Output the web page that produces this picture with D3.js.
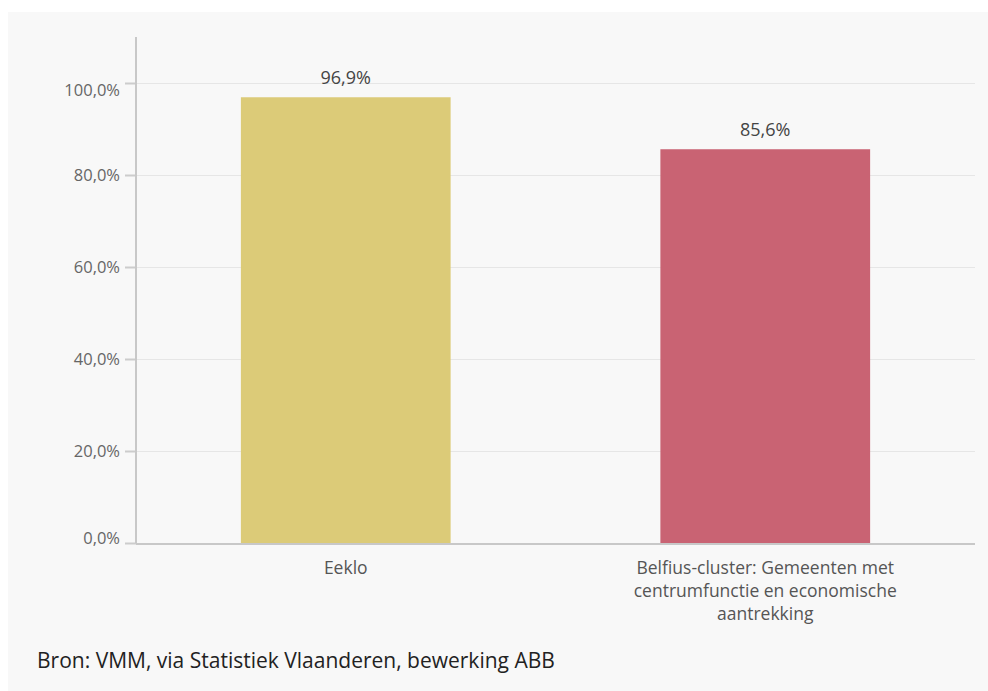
<!DOCTYPE html>
<html>
<head>
  <meta http-equiv="content-type" content="text/html; charset=utf-8">
  <title>Eeklo vs Belfius-cluster</title>
  <style>
    body { margin: 0; background: #fff; }
    svg { display: block; }
    .panel { fill: #f8f8f8; }
    .grid line { stroke: #e6e6e6; stroke-width: 1; }
    .tick text { font-family: "Open Sans", sans-serif; font-size: 16.5px; fill: #666; }
    .cat { font-family: "Open Sans", sans-serif; font-size: 17.5px; fill: #555; text-anchor: middle; }
    .val { font-family: "Open Sans", sans-serif; font-size: 18px; fill: #444; text-anchor: middle; }
    .source { font-family: "Open Sans", sans-serif; font-size: 21px; fill: #222; }
  </style>
</head>
<body>
  <svg id="canvas"></svg>
  <script src="https://d3js.org/d3.v7.min.js"></script>
  <script>
    const categories = ["Eeklo", "Belfius-cluster: Gemeenten met centrumfunctie en economische aantrekking"];
    const catLines = [["Eeklo"], ["Belfius-cluster: Gemeenten met", "centrumfunctie en economische", "aantrekking"]];
    const values = [96.9, 85.6];
    const colors = ["#dccb78", "#c96373"];
    const yTicks = [0, 20, 40, 60, 80, 100];
    const source = "Bron: VMM, via Statistiek Vlaanderen, bewerking ABB";

    const W = 988, H = 691;
    const m = { left: 136, right: 975, top: 37, bottom: 543 };
    const fmt = v => d3.format(".1f")(v).replace(".", ",") + "%";

    const svg = d3.select("#canvas").attr("width", W).attr("height", H);
    svg.append("rect").attr("class", "panel")
      .attr("x", 8).attr("y", 12).attr("width", W - 8).attr("height", H - 12);

    const x = d3.scaleBand().domain(categories).range([m.left, m.right]).paddingInner(0.5).paddingOuter(0.25);
    const y = d3.scaleLinear().domain([0, 110]).range([m.bottom, m.top]);

    // gridlines
    svg.append("g").attr("class", "grid")
      .selectAll("line").data(yTicks.filter(t => t > 0)).enter().append("line")
      .attr("x1", m.left).attr("x2", m.right)
      .attr("y1", t => y(t) + 0.5).attr("y2", t => y(t) + 0.5);

    // y axis
    const yAxis = svg.append("g")
      .attr("transform", "translate(" + m.left + ",0)")
      .call(d3.axisLeft(y).tickValues(yTicks).tickFormat(fmt).tickSize(11).tickPadding(5));
    yAxis.select(".domain").remove();
    yAxis.selectAll(".tick line").attr("stroke", "#ccc").attr("stroke-width", 2);
    // end labels are nudged inward, as in the original
    yAxis.selectAll(".tick text").attr("dy", t => t === 100 ? "0.75em" : t === 0 ? "0.05em" : "0.35em");
    svg.append("line").attr("x1", m.left).attr("x2", m.left)
      .attr("y1", m.top).attr("y2", m.bottom).attr("stroke", "#c8c8c8").attr("stroke-width", 2);

    // bars
    svg.selectAll(".bar").data(values).enter().append("rect")
      .attr("class", "bar")
      .attr("x", (d, i) => x(categories[i]))
      .attr("width", x.bandwidth())
      .attr("y", d => y(d))
      .attr("height", d => y(0) - y(d))
      .attr("fill", (d, i) => colors[i]);

    // x baseline
    svg.append("line").attr("x1", m.left).attr("x2", m.right)
      .attr("y1", m.bottom + 1).attr("y2", m.bottom + 1)
      .attr("stroke", "#c8c8c8").attr("stroke-width", 2);

    // value labels
    svg.selectAll(".val").data(values).enter().append("text")
      .attr("class", "val")
      .attr("x", (d, i) => x(categories[i]) + x.bandwidth() / 2)
      .attr("y", d => y(d) - 13)
      .text(fmt);

    // category labels
    catLines.forEach((lines, i) => {
      const cx = x(categories[i]) + x.bandwidth() / 2;
      const t = svg.append("text").attr("class", "cat").attr("x", cx).attr("y", 574);
      lines.forEach((l, j) => {
        t.append("tspan").attr("x", cx).attr("dy", j ? 23 : 0).text(l);
      });
    });

    svg.append("text").attr("class", "source")
      .attr("x", 37).attr("y", 668).text(source);
  </script>
</body>
</html>
